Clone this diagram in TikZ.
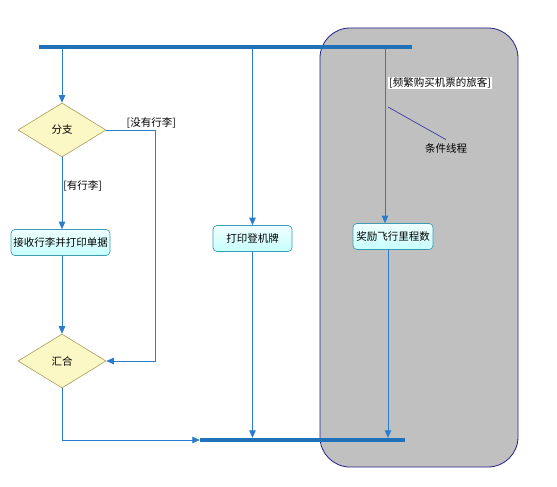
\documentclass[tikz,border=0pt]{standalone}
\usepackage{fontspec}
\newfontfamily\cjk{Noto Sans CJK SC}
\usetikzlibrary{shapes.geometric,arrows.meta}
\definecolor{flowc}{HTML}{2A7CCC}
\definecolor{barc}{HTML}{1F72B8}
\definecolor{lanefill}{HTML}{C0C0C0}
\definecolor{laneline}{HTML}{22228A}
\definecolor{diafill}{HTML}{FCF8C6}
\definecolor{dialine}{HTML}{A89C5C}
\definecolor{boxline}{HTML}{3C9CB4}
\definecolor{notec}{HTML}{3A3AA8}
\tikzset{
  lanebox/.style={draw=laneline,fill=lanefill,line width=0.8pt,rounded corners=30pt,
    minimum width=198pt,minimum height=439pt,inner sep=0pt},
  syncbar/.style={fill=barc,inner sep=0pt,minimum height=4pt},
  dia/.style={diamond,draw=dialine,fill=diafill,line width=0.6pt,inner sep=0pt,
    minimum width=88pt,minimum height=54pt},
  actbox/.style={draw=boxline,line width=0.7pt,rounded corners=4pt,top color=cyan!6,
    bottom color=cyan!22,minimum height=26pt,inner sep=1.5pt},
  flow/.style={draw=flowc,line width=0.8pt,-{Triangle[width=6.5pt,length=7.5pt]}},
  plainflow/.style={draw=flowc,line width=0.8pt},
  guard/.style={inner sep=1pt,font=\cjk\fontsize{10.5}{11}\selectfont},
  noteline/.style={draw=notec,line width=0.7pt}
}
\begin{document}
\begin{tikzpicture}[x=1pt,y=-1pt,font=\cjk\fontsize{10.5}{11}\selectfont]
\useasboundingbox (0,0) rectangle (557,487);
\node[lanebox] (lane) at (419,247.5) {};
\node[syncbar,minimum width=373pt] (topbar) at (225.5,47) {};
\node[syncbar,minimum width=205pt] (botbar) at (302.5,440) {};
\node[dia] (fenzhi) at (62,130) {分支};
\node[dia] (huihe) at (62,361) {汇合};
\node[actbox,minimum width=99pt] (box1) at (60.5,242.5) {接收行李并打印单据};
\node[actbox,minimum width=79pt] (box2) at (252.5,238.5) {打印登机牌};
\node[actbox,minimum width=80pt] (box3) at (393,236.5) {奖励飞行里程数};
\node[guard,fill=white,anchor=west] (g3) at (388,83) {[频繁购买机票的旅客]};
\node (note) at (446,148) {条件线程};
\coordinate (nstart) at (388,107);
% connectors
\draw[flow] (topbar.south -| fenzhi.north) -- (fenzhi.north);
\draw[flow] (fenzhi.south) -- node[guard,right,pos=0.4] (g1) {[有行李]} (fenzhi.south |- box1.north);
\draw[flow] (fenzhi.east) -- ++(49,0) node[guard,above right,xshift=-30pt] (g2) {[没有行李]} |- (huihe.east);
\draw[flow] (box1.south -| huihe.north) -- (huihe.north);
\draw[flow] (huihe.south) |- (botbar.west);
\draw[flow] (topbar.south -| box2.north) -- (box2.north);
\draw[flow] (box2.south) -- (box2.south |- botbar.north);
\draw[flow] ([xshift=-8pt]box3.north |- topbar.south) -- ([xshift=-8pt]box3.north);
\draw[flow] ([xshift=-5pt]box3.south) -- ([xshift=-5pt]box3.south |- botbar.north);
\draw[noteline] (nstart) -- (note.north);
\end{tikzpicture}
\end{document}
